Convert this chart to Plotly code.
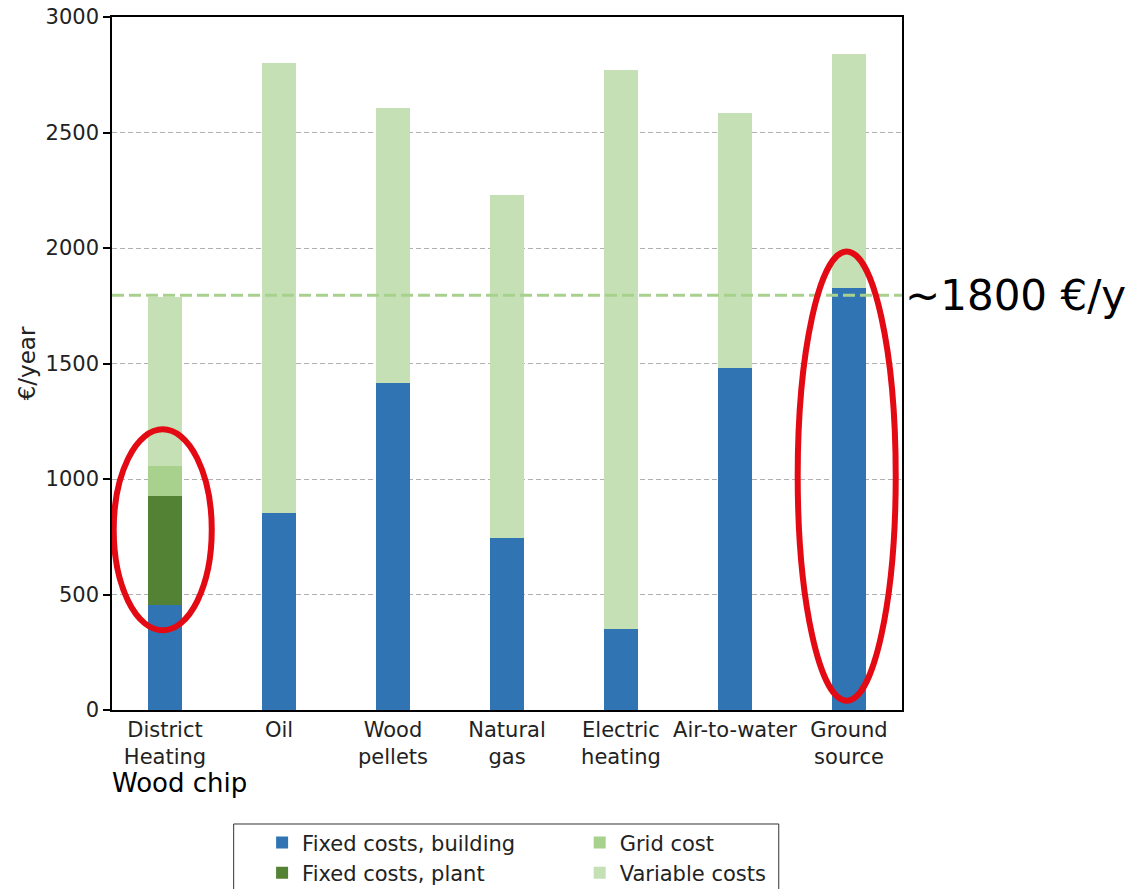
import plotly.graph_objects as go

categories = ["District Heating", "Oil", "Wood pellets", "Natural gas",
              "Electric heating", "Air-to-water", "Ground source"]
tick_labels = ["District<br>Heating", "Oil", "Wood<br>pellets", "Natural<br>gas",
               "Electric<br>heating", "Air-to-water", "Ground<br>source"]
fixed_building = [455, 853, 1416, 745, 351, 1481, 1827]
fixed_plant = [471, 0, 0, 0, 0, 0, 0]
grid_cost = [130, 0, 0, 0, 0, 0, 0]
variable_costs = [734, 1947, 1190, 1484, 2420, 1103, 1013]
reference_level = 1795
y_ticks = [0, 500, 1000, 1500, 2000, 2500, 3000]

FONT = "DejaVu Sans"
C_BLUE = "#3174B4"
C_PLANT = "#548235"
C_GRID = "#A9D18E"
C_VAR = "#C5E0B4"
C_RED = "#E30A14"

fig = go.Figure()
fig.add_trace(go.Bar(x=categories, y=fixed_building, name="Fixed costs, building",
                     marker=dict(color=C_BLUE, line=dict(width=0)), width=0.3, legend="legend"))
fig.add_trace(go.Bar(x=categories, y=fixed_plant, name="Fixed costs, plant",
                     marker=dict(color=C_PLANT, line=dict(width=0)), width=0.3, legend="legend"))
fig.add_trace(go.Bar(x=categories, y=grid_cost, name="Grid cost",
                     marker=dict(color=C_GRID, line=dict(width=0)), width=0.3, legend="legend2"))
fig.add_trace(go.Bar(x=categories, y=variable_costs, name="Variable costs",
                     marker=dict(color=C_VAR, line=dict(width=0)), width=0.3, legend="legend2"))

shapes = [
    # dashed reference line
    dict(type="line", xref="paper", x0=0, x1=1, yref="y", y0=reference_level, y1=reference_level,
         line=dict(color=C_GRID, width=3, dash="12px,5px"), layer="above"),
    # red ellipses
    dict(type="circle", xref="x", yref="y", x0=-0.45, x1=0.41, y0=345, y1=1215,
         line=dict(color=C_RED, width=6), layer="above"),
    dict(type="circle", xref="x", yref="y", x0=5.55, x1=6.41, y0=40, y1=1985,
         line=dict(color=C_RED, width=6), layer="above"),
    # legend frame
    dict(type="rect", xref="paper", yref="paper", x0=0.154, x1=0.844, y0=-0.1645, y1=-0.28,
         line=dict(color="#333333", width=1), fillcolor="rgba(0,0,0,0)", layer="above"),
]

annotations = [
    dict(text="~1800 €/y", xref="paper", x=1.0, xanchor="left", xshift=1,
         yref="y", y=reference_level, yanchor="middle", showarrow=False,
         font=dict(family=FONT, size=42, color="black")),
    dict(text="Wood chip", xref="paper", x=0.085, xanchor="center",
         yref="paper", y=-0.105, yanchor="middle", showarrow=False,
         font=dict(family=FONT, size=26, color="black")),
]

fig.update_layout(
    width=1133, height=889,
    barmode="stack",
    plot_bgcolor="white", paper_bgcolor="white",
    margin=dict(l=112, r=231, t=17, b=179, autoexpand=False),
    font=dict(family=FONT, size=21, color="#222222"),
    shapes=shapes, annotations=annotations,
    legend=dict(x=0.19, xanchor="left", y=-0.162, yanchor="top", orientation="v",
                font=dict(family=FONT, size=21, color="#222222"), bgcolor="rgba(0,0,0,0)",
                traceorder="normal"),
    legend2=dict(x=0.592, xanchor="left", y=-0.162, yanchor="top", orientation="v",
                 font=dict(family=FONT, size=21, color="#222222"), bgcolor="rgba(0,0,0,0)",
                 traceorder="normal"),
    showlegend=True,
)
fig.update_xaxes(
    range=[-0.465, 6.465], tickvals=categories, ticktext=tick_labels,
    showline=True, mirror=True, linecolor="black", linewidth=1.5,
    ticks="", showgrid=False, tickfont=dict(family=FONT, size=21, color="#222222"),
)
fig.update_yaxes(
    range=[0, 3000], tickvals=y_ticks, showline=True, mirror=True, linecolor="black", linewidth=1.5,
    ticks="outside", ticklen=7, tickwidth=1.5, tickcolor="black", ticklabeloverflow="allow",
    showgrid=True, gridcolor="#b0b0b0", gridwidth=1, griddash="5px,3px",
    zeroline=False, tickfont=dict(family=FONT, size=21, color="#222222"),
    title=dict(text="€/year", font=dict(family=FONT, size=23, color="#222222"), standoff=4),
)

fig.write_html("out.html", config={"displayModeBar": False},
               post_script="document.body.style.margin='0';")
